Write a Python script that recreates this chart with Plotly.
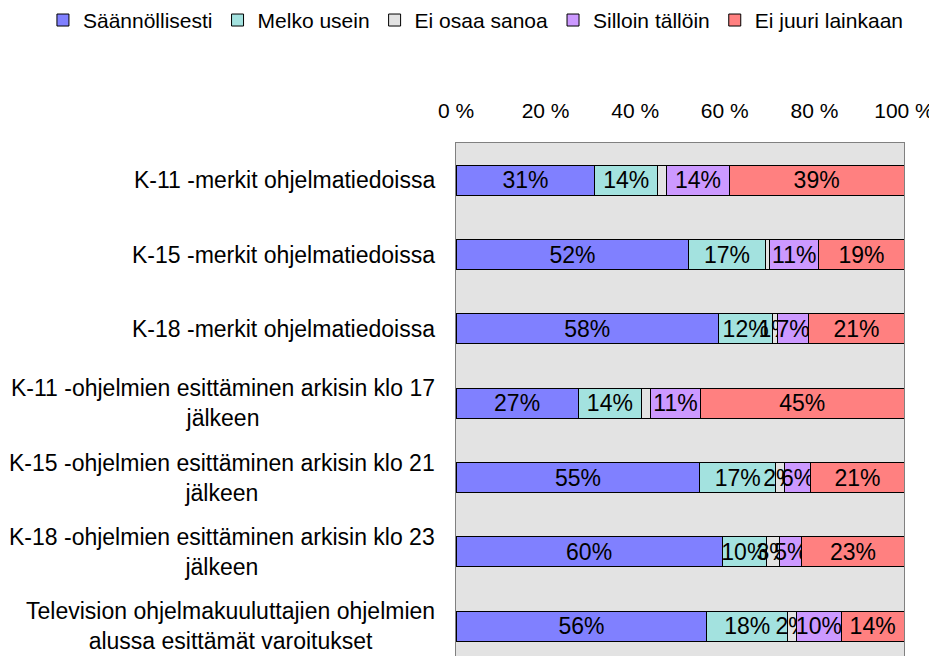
import plotly.graph_objects as go

categories = [
    "K-11 -merkit ohjelmatiedoissa",
    "K-15 -merkit ohjelmatiedoissa",
    "K-18 -merkit ohjelmatiedoissa",
    "K-11 -ohjelmien esittäminen arkisin klo 17<br>jälkeen",
    "K-15 -ohjelmien esittäminen arkisin klo 21<br>jälkeen",
    "K-18 -ohjelmien esittäminen arkisin klo 23<br>jälkeen",
    "Television ohjelmakuuluttajien ohjelmien<br>alussa esittämät varoitukset",
]
series_names = ["Säännöllisesti", "Melko usein", "Ei osaa sanoa", "Silloin tällöin", "Ei juuri lainkaan"]
saannollisesti = [31, 52, 58, 27, 55, 60, 56]
melko_usein = [14, 17, 12, 14, 17, 10, 18]
ei_osaa_sanoa = [2, 1, 1, 2, 2, 3, 2]
silloin_talloin = [14, 11, 7, 11, 6, 5, 10]
ei_juuri = [39, 19, 21, 45, 21, 23, 14]
ei_osaa_label_shown = [False, False, True, False, True, True, True]
tick_vals = [0, 20, 40, 60, 80, 100]
tick_text = ["0 %", "20 %", "40 %", "60 %", "80 %", "100 %"]

colors = ["#8080FF", "#A3E2DF", "#E3E3E3", "#CC99FF", "#FF8080"]
values = [saannollisesti, melko_usein, ei_osaa_sanoa, silloin_talloin, ei_juuri]

FONT = "Liberation Sans, Arial, sans-serif"
ypos = list(range(len(categories)))

# The page body has an 8px default margin, so the figure is drawn 8px
# smaller and with 8px less margin on the top/left.
W, H = 929, 648

fig = go.Figure()
for name, vals, col in zip(series_names, values, colors):
    if name == "Ei osaa sanoa":
        txt = [f"{v}%" if s else "" for v, s in zip(vals, ei_osaa_label_shown)]
    else:
        txt = [f"{v}%" for v in vals]
    fig.add_trace(go.Bar(
        name=name, y=ypos, x=vals, orientation="h",
        marker=dict(color=col, line=dict(color="black", width=1)),
        width=0.404, text=txt, textposition="inside", insidetextanchor="middle",
        textangle=0,
        textfont=dict(size=23, color="black", family=FONT),
        cliponaxis=False, hoverinfo="skip",
    ))

annotations = []
for i, c in enumerate(categories):
    annotations.append(dict(
        x=0, xref="paper", y=i, yref="y", text=c, showarrow=False,
        xanchor="right", yanchor="middle", align="center", xshift=-19,
        font=dict(size=23, color="black", family=FONT),
    ))

fig.update_layout(
    width=W, height=H,
    barmode="stack", barnorm="percent",
    paper_bgcolor="white", plot_bgcolor="#E3E3E3",
    margin=dict(l=448, r=33, t=135, b=0, autoexpand=False),
    font=dict(family=FONT, size=23, color="black"),
    uniformtext=dict(minsize=23, mode="show"),
    showlegend=True,
    legend=dict(orientation="h", x=-0.922, xanchor="left", xref="paper",
                y=1.279, yref="paper", yanchor="top",
                font=dict(size=21, family=FONT), traceorder="normal",
                itemwidth=30, bgcolor="rgba(0,0,0,0)"),
    annotations=annotations,
    xaxis=dict(side="top", range=[0, 100.001], tickvals=tick_vals, ticktext=tick_text,
               showgrid=False, zeroline=False, showline=True, linecolor="#808080",
               mirror=True, ticks="", ticklabelstandoff=16, automargin=False,
               tickfont=dict(size=21, family=FONT)),
    yaxis=dict(range=[6.40, -0.5], showticklabels=False, showgrid=False, zeroline=False,
               showline=True, linecolor="#808080", mirror=True, ticks="", automargin=False),
)
fig.write_html("out.html")
